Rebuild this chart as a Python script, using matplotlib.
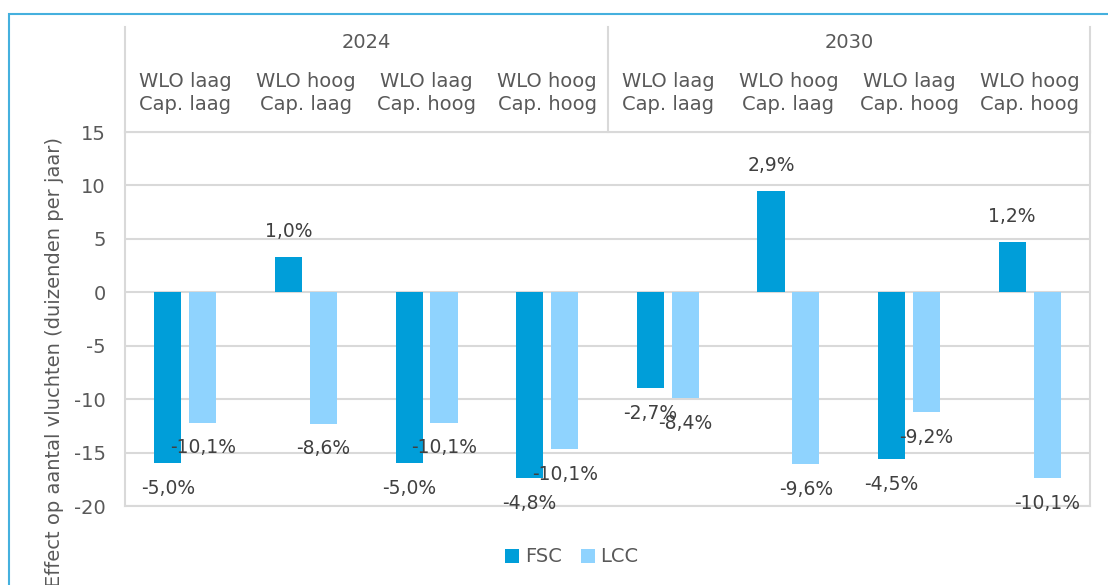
import matplotlib.pyplot as plt
from matplotlib.patches import Rectangle

# data
years = ['2024', '2030']
scenarios = ['WLO laag\nCap. laag', 'WLO hoog\nCap. laag',
             'WLO laag\nCap. hoog', 'WLO hoog\nCap. hoog']
fsc = [-16.0, 3.3, -16.0, -17.4, -9.0, 9.5, -15.6, 4.7]
lcc = [-12.2, -12.3, -12.2, -14.7, -9.9, -16.1, -11.2, -17.4]
fsc_lbl = ['-5,0%', '1,0%', '-5,0%', '-4,8%', '-2,7%', '2,9%', '-4,5%', '1,2%']
lcc_lbl = ['-10,1%', '-8,6%', '-10,1%', '-10,1%', '-8,4%', '-9,6%', '-9,2%', '-10,1%']

c_fsc = '#009ed9'
c_lcc = '#8fd3fe'
grid = '#d9d9d9'
txt = '#595959'

plt.rcParams['font.family'] = 'DejaVu Sans'
plt.rcParams['axes.unicode_minus'] = False

W, H = 1108, 585
fig = plt.figure(figsize=(W / 100, H / 100), dpi=100)

# blue frame round the chart
fig.add_artist(Rectangle((9 / W, -0.1), 1.2, (H - 14) / H + 0.1,
                         transform=fig.transFigure, fill=False,
                         edgecolor='#45b0de', lw=1.5))

ax = fig.add_axes([125 / W, (H - 506) / H, (1090 - 125) / W, (506 - 132) / H])

x = list(range(len(fsc)))
off = 0.145
w = 0.225
ax.bar([i - off for i in x], fsc, w, color=c_fsc, label='FSC', zorder=3)
ax.bar([i + off for i in x], lcc, w, color=c_lcc, label='LCC', zorder=3)

pad = 2.35
for i in x:
    for v, s, dx in ((fsc[i], fsc_lbl[i], -off), (lcc[i], lcc_lbl[i], off)):
        yy = v + pad if v > 0 else v - pad
        ax.text(i + dx, yy, s, ha='center', va='center', fontsize=13.5,
                color='#404040', zorder=4)

ax.set_xlim(-0.5, 7.5)
ax.set_ylim(-20, 15)
ax.set_yticks(range(-20, 16, 5))
ax.set_xticks([])
ax.tick_params(axis='y', length=0, labelsize=14, colors=txt, pad=14)
ax.grid(axis='y', color=grid, lw=1.5, zorder=0)
for sp in ax.spines.values():
    sp.set_color(grid)
    sp.set_linewidth(1.5)

# header with years and scenarios
top = 1 + (132 - 27) / (506 - 132)
for xf in (0, 0.5, 1):
    ax.plot([xf, xf], [1, top], transform=ax.transAxes, color=grid, lw=1.5,
            clip_on=False)
for k, yr in enumerate(years):
    ax.text(0.25 + 0.5 * k, 1 + (132 - 42) / 374, yr, transform=ax.transAxes,
            ha='center', va='center', fontsize=14, color=txt)
    for j, sc in enumerate(scenarios):
        ax.text(k * 4 + j, 1 + (132 - 93) / 374, sc,
                transform=ax.get_xaxis_transform(), ha='center', va='center',
                fontsize=14, color=txt, linespacing=1.3)

fig.text(55 / W, 1 - 362 / H, 'Effect op aantal vluchten (duizenden per jaar)',
         rotation=90, ha='center', va='center', fontsize=14, color=txt)

fig.legend(loc='center', bbox_to_anchor=(572 / W, 1 - 557 / H), ncol=2,
           frameon=False, fontsize=14, handlelength=0.7, handleheight=0.7,
           handletextpad=0.3, columnspacing=1.0, labelcolor=txt)

fig.savefig('out.png', dpi=100)
